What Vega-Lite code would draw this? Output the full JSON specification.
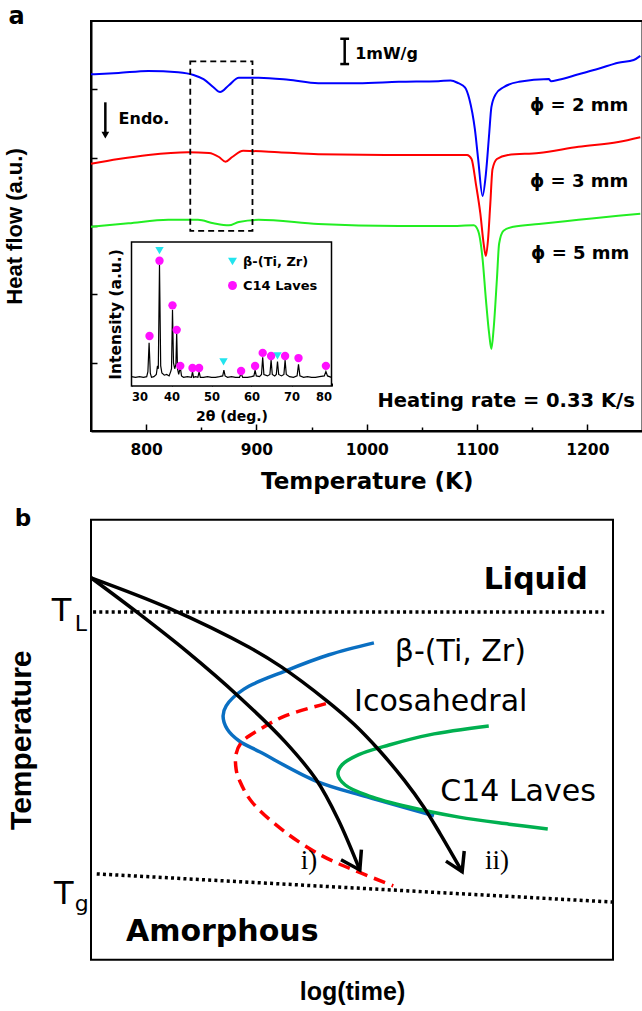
{
  "$schema": "https://vega.github.io/schema/vega-lite/v6.json",
  "background": "white",
  "padding": {"left": 2, "top": 3, "right": 0, "bottom": 0},
  "config": {
    "view": {"stroke": "black", "strokeWidth": 2},
    "axis": {"grid": false, "domainColor": "black", "tickColor": "black", "labelColor": "black", "titleColor": "black"}
  },
  "datasets": {
    "dsc": [
      {"s":"2 mm","T":750,"hf":5.22},{"s":"2 mm","T":775,"hf":5.24},{"s":"2 mm","T":802,"hf":5.27},{"s":"2 mm","T":829,"hf":5.25},{"s":"2 mm","T":843,"hf":5.21},{"s":"2 mm","T":852,"hf":5.15},{"s":"2 mm","T":861,"hf":5.03},{"s":"2 mm","T":867,"hf":4.96},{"s":"2 mm","T":875,"hf":5.06},{"s":"2 mm","T":884,"hf":5.17},{"s":"2 mm","T":902,"hf":5.17},{"s":"2 mm","T":929,"hf":5.14},{"s":"2 mm","T":956,"hf":5.09},{"s":"2 mm","T":992,"hf":5.09},{"s":"2 mm","T":1029,"hf":5.11},{"s":"2 mm","T":1065,"hf":5.12},{"s":"2 mm","T":1076,"hf":5.13},{"s":"2 mm","T":1083,"hf":5.09},{"s":"2 mm","T":1089,"hf":5.03},{"s":"2 mm","T":1093,"hf":4.86},{"s":"2 mm","T":1098,"hf":4.42},{"s":"2 mm","T":1101,"hf":3.98},{"s":"2 mm","T":1105,"hf":3.44},{"s":"2 mm","T":1108,"hf":3.76},{"s":"2 mm","T":1111,"hf":4.35},{"s":"2 mm","T":1113,"hf":4.74},{"s":"2 mm","T":1117,"hf":4.93},{"s":"2 mm","T":1124,"hf":5.03},{"s":"2 mm","T":1138,"hf":5.11},{"s":"2 mm","T":1165,"hf":5.15},{"s":"2 mm","T":1167,"hf":5.12},{"s":"2 mm","T":1174,"hf":5.14},{"s":"2 mm","T":1192,"hf":5.22},{"s":"2 mm","T":1210,"hf":5.3},{"s":"2 mm","T":1228,"hf":5.39},{"s":"2 mm","T":1242,"hf":5.43},{"s":"2 mm","T":1248,"hf":5.49},
      {"s":"3 mm","T":750,"hf":3.91},{"s":"3 mm","T":775,"hf":3.98},{"s":"3 mm","T":802,"hf":4.04},{"s":"3 mm","T":838,"hf":4.08},{"s":"3 mm","T":857,"hf":4.07},{"s":"3 mm","T":866,"hf":4.01},{"s":"3 mm","T":872,"hf":3.94},{"s":"3 mm","T":878,"hf":4.01},{"s":"3 mm","T":888,"hf":4.1},{"s":"3 mm","T":920,"hf":4.08},{"s":"3 mm","T":956,"hf":4.05},{"s":"3 mm","T":1029,"hf":4.04},{"s":"3 mm","T":1060,"hf":4.04},{"s":"3 mm","T":1091,"hf":4.04},{"s":"3 mm","T":1095,"hf":3.98},{"s":"3 mm","T":1099,"hf":3.61},{"s":"3 mm","T":1103,"hf":3.18},{"s":"3 mm","T":1106,"hf":2.74},{"s":"3 mm","T":1108,"hf":2.56},{"s":"3 mm","T":1110,"hf":2.81},{"s":"3 mm","T":1112,"hf":3.32},{"s":"3 mm","T":1114,"hf":3.83},{"s":"3 mm","T":1118,"hf":3.98},{"s":"3 mm","T":1128,"hf":4.04},{"s":"3 mm","T":1156,"hf":4.07},{"s":"3 mm","T":1192,"hf":4.16},{"s":"3 mm","T":1228,"hf":4.23},{"s":"3 mm","T":1248,"hf":4.3},
      {"s":"5 mm","T":750,"hf":2.99},{"s":"5 mm","T":784,"hf":3.04},{"s":"5 mm","T":820,"hf":3.09},{"s":"5 mm","T":847,"hf":3.09},{"s":"5 mm","T":861,"hf":3.04},{"s":"5 mm","T":875,"hf":3.01},{"s":"5 mm","T":884,"hf":3.06},{"s":"5 mm","T":902,"hf":3.09},{"s":"5 mm","T":956,"hf":3.03},{"s":"5 mm","T":1029,"hf":3.0},{"s":"5 mm","T":1074,"hf":3.0},{"s":"5 mm","T":1097,"hf":3.01},{"s":"5 mm","T":1101,"hf":2.93},{"s":"5 mm","T":1105,"hf":2.52},{"s":"5 mm","T":1108,"hf":1.93},{"s":"5 mm","T":1111,"hf":1.42},{"s":"5 mm","T":1113,"hf":1.2},{"s":"5 mm","T":1115,"hf":1.49},{"s":"5 mm","T":1118,"hf":2.22},{"s":"5 mm","T":1120,"hf":2.74},{"s":"5 mm","T":1124,"hf":2.93},{"s":"5 mm","T":1133,"hf":2.99},{"s":"5 mm","T":1156,"hf":3.03},{"s":"5 mm","T":1192,"hf":3.09},{"s":"5 mm","T":1228,"hf":3.15},{"s":"5 mm","T":1248,"hf":3.18}
    ],
    "xrd": [
      {"th":30,"I":6.5},{"th":31,"I":6},{"th":32,"I":6.5},{"th":33,"I":6},{"th":33.8,"I":6.5},{"th":34.1,"I":10},{"th":34.4,"I":30},{"th":34.7,"I":9},{"th":35,"I":6},{"th":35.6,"I":6.5},{"th":36.2,"I":8},{"th":36.5,"I":14},{"th":36.7,"I":12},{"th":37.0,"I":84},{"th":37.3,"I":14},{"th":37.6,"I":9},{"th":38.2,"I":7.5},{"th":38.8,"I":8},{"th":39.4,"I":7},{"th":39.8,"I":10},{"th":40.0,"I":12},{"th":40.25,"I":53},{"th":40.5,"I":16},{"th":40.8,"I":12},{"th":41.1,"I":15},{"th":41.3,"I":37},{"th":41.5,"I":12},{"th":41.8,"I":8},{"th":42.2,"I":13},{"th":42.5,"I":7},{"th":43,"I":6},{"th":44,"I":6.5},{"th":45,"I":6},{"th":45.25,"I":10},{"th":45.5,"I":6},{"th":46,"I":6.5},{"th":46.6,"I":6},{"th":46.9,"I":10},{"th":47.2,"I":6},{"th":48,"I":6},{"th":49,"I":6.5},{"th":50,"I":6},{"th":51,"I":6},{"th":52,"I":6.5},{"th":52.8,"I":7},{"th":53.1,"I":11},{"th":53.4,"I":7},{"th":54,"I":6},{"th":55,"I":6.5},{"th":56,"I":6},{"th":57,"I":6},{"th":57.4,"I":8.5},{"th":57.8,"I":6},{"th":59,"I":6},{"th":60,"I":6.5},{"th":60.6,"I":7},{"th":60.9,"I":11},{"th":61.2,"I":7},{"th":62,"I":6.5},{"th":62.5,"I":8},{"th":62.8,"I":20},{"th":63.1,"I":8},{"th":64,"I":7},{"th":64.6,"I":8},{"th":64.9,"I":18},{"th":65.2,"I":8},{"th":65.8,"I":7},{"th":66.2,"I":8},{"th":66.5,"I":17},{"th":66.8,"I":8},{"th":67.5,"I":7},{"th":68.1,"I":8},{"th":68.4,"I":18},{"th":68.7,"I":8},{"th":69.5,"I":6.5},{"th":70.5,"I":6},{"th":71.4,"I":7},{"th":71.75,"I":15},{"th":72.1,"I":7},{"th":73,"I":6},{"th":74,"I":6.5},{"th":75,"I":6},{"th":76,"I":6},{"th":77,"I":6.5},{"th":78.2,"I":7},{"th":78.6,"I":10},{"th":79,"I":7},{"th":80,"I":6}
    ],
    "pk": [
      {"ph":"β-(Ti, Zr)","th":37.0,"I":94},{"ph":"β-(Ti, Zr)","th":53.0,"I":16.7},{"ph":"β-(Ti, Zr)","th":66.5,"I":21},
      {"ph":"C14 Laves","th":34.5,"I":34.7},{"ph":"C14 Laves","th":37.0,"I":87},{"ph":"C14 Laves","th":40.25,"I":56},{"ph":"C14 Laves","th":41.3,"I":39},{"ph":"C14 Laves","th":42.2,"I":14},{"ph":"C14 Laves","th":45.25,"I":12.5},{"ph":"C14 Laves","th":46.9,"I":12.5},{"ph":"C14 Laves","th":57.4,"I":10.4},{"ph":"C14 Laves","th":60.9,"I":13.9},{"ph":"C14 Laves","th":62.8,"I":23},{"ph":"C14 Laves","th":64.9,"I":20.8},{"ph":"C14 Laves","th":68.4,"I":20.8},{"ph":"C14 Laves","th":71.75,"I":19.4},{"ph":"C14 Laves","th":78.6,"I":14}
    ],
    "ttt": [
      {"g":"c1","i":0,"x":0,"y":86.8},{"g":"c1","i":1,"x":9,"y":78.8},{"g":"c1","i":2,"x":18.4,"y":70.0},{"g":"c1","i":3,"x":28.5,"y":59.6},{"g":"c1","i":4,"x":37.2,"y":49.5},{"g":"c1","i":5,"x":43.1,"y":41.0},{"g":"c1","i":6,"x":47.3,"y":32.0},{"g":"c1","i":7,"x":51.5,"y":20.4},
      {"g":"c2","i":0,"x":0,"y":86.8},{"g":"c2","i":1,"x":14.9,"y":79.9},{"g":"c2","i":2,"x":30.3,"y":71.0},{"g":"c2","i":3,"x":36.4,"y":66.6},{"g":"c2","i":4,"x":45,"y":59.0},{"g":"c2","i":5,"x":50.4,"y":53.5},{"g":"c2","i":6,"x":55.2,"y":47.6},{"g":"c2","i":7,"x":60,"y":40.8},{"g":"c2","i":8,"x":63.8,"y":34.6},{"g":"c2","i":9,"x":66.9,"y":28.6},{"g":"c2","i":10,"x":71.1,"y":20.0},
      {"g":"a1","i":0,"x":47.9,"y":22.7},{"g":"a1","i":1,"x":51.5,"y":20.4},{"g":"a1","i":2,"x":51.8,"y":25.0},
      {"g":"a2","i":0,"x":68.0,"y":22.4},{"g":"a2","i":1,"x":71.1,"y":20.0},{"g":"a2","i":2,"x":71.5,"y":24.7},
      {"g":"beta","i":0,"x":54.2,"y":72.0},{"g":"beta","i":1,"x":45.6,"y":69.3},{"g":"beta","i":2,"x":37.2,"y":65.6},{"g":"beta","i":3,"x":29.3,"y":61.5},{"g":"beta","i":4,"x":25.9,"y":57.7},{"g":"beta","i":5,"x":25.3,"y":55.4},{"g":"beta","i":6,"x":26.1,"y":52.4},{"g":"beta","i":7,"x":28.4,"y":49.7},{"g":"beta","i":8,"x":32.4,"y":47.2},{"g":"beta","i":9,"x":43.1,"y":40.6},{"g":"beta","i":10,"x":52.9,"y":37.0},{"g":"beta","i":11,"x":65.7,"y":32.7},
      {"g":"ico","i":0,"x":45.0,"y":58.2},{"g":"ico","i":1,"x":37.2,"y":55.4},{"g":"ico","i":2,"x":32.4,"y":52.4},{"g":"ico","i":3,"x":28.9,"y":49.5},{"g":"ico","i":4,"x":27.8,"y":46.8},{"g":"ico","i":5,"x":27.8,"y":43.3},{"g":"ico","i":6,"x":28.5,"y":40.6},{"g":"ico","i":7,"x":30.8,"y":35.9},{"g":"ico","i":8,"x":37.2,"y":29.0},{"g":"ico","i":9,"x":44.3,"y":23.6},{"g":"ico","i":10,"x":51.1,"y":20.0},{"g":"ico","i":11,"x":57.9,"y":16.8},
      {"g":"c14","i":0,"x":76.2,"y":53.1},{"g":"c14","i":1,"x":64.8,"y":51.1},{"g":"c14","i":2,"x":57.1,"y":48.8},{"g":"c14","i":3,"x":51.3,"y":46.6},{"g":"c14","i":4,"x":48.1,"y":44.3},{"g":"c14","i":5,"x":47.3,"y":42.2},{"g":"c14","i":6,"x":48.7,"y":39.7},{"g":"c14","i":7,"x":53.3,"y":37.2},{"g":"c14","i":8,"x":60.9,"y":34.7},{"g":"c14","i":9,"x":70.5,"y":32.4},{"g":"c14","i":10,"x":80.1,"y":30.8},{"g":"c14","i":11,"x":87.5,"y":29.7},
      {"g":"TL","i":0,"x":0.4,"y":79.0},{"g":"TL","i":1,"x":98.3,"y":79.0},
      {"g":"Tg","i":0,"x":1.1,"y":19.5},{"g":"Tg","i":1,"x":100,"y":13.1}
    ]
  },
  "bounds": "flush",
  "spacing": 88.7,
  "vconcat": [
    {
      "width": 551.5,
      "height": 410,
      "layer": [
        {
          "encoding": {
            "x": {"field": "T", "type": "quantitative", "scale": {"domain": [750, 1250], "nice": false, "zero": false},
              "axis": {"values": [800, 850, 900, 950, 1000, 1050, 1100, 1150, 1200], "format": "d",
                "labelExpr": "datum.value % 100 == 0 ? datum.label : ''",
                "tickSize": {"condition": {"test": "datum.value % 100 == 0", "value": -7}, "value": -4},
                "tickWidth": 1.5, "domainWidth": 2, "labelFont": "DejaVu Sans", "labelFontWeight": "bold", "labelFontSize": 15.5, "labelPadding": 18,
                "title": "Temperature (K)", "titleFont": "DejaVu Sans", "titleFontWeight": "bold", "titleFontSize": 23, "titlePadding": 13}},
            "y": {"field": "hf", "type": "quantitative", "scale": {"domain": [0, 6], "nice": false, "zero": false},
              "axis": {"values": [1, 2, 3, 4, 5], "labels": false, "tickSize": -6, "tickWidth": 1.5, "domainWidth": 2,
                "title": "Heat flow (a.u.)", "titleFont": "Liberation Sans", "titleFontWeight": "bold", "titleFontSize": 22, "titlePadding": 63.5}}
          },
          "layer": [
            {"data": {"name": "dsc"}, "mark": {"type": "line", "strokeWidth": 2, "interpolate": "monotone"},
              "encoding": {"color": {"field": "s", "type": "nominal", "scale": {"domain": ["2 mm", "3 mm", "5 mm"], "range": ["#0000ff", "#ff0000", "#22ee22"]}, "legend": null}}},
            {"data": {"values": [{"T": 840, "T2": 896.4, "hf": 5.41, "hf2": 2.93}]},
              "mark": {"type": "rect", "fillOpacity": 0, "stroke": "black", "strokeWidth": 1.8, "strokeDash": [6, 4]},
              "encoding": {"x2": {"field": "T2"}, "y2": {"field": "hf2"}}},
            {"data": {"values": [{"T": 980, "T2": 980, "hf": 5.74, "hf2": 5.37}, {"T": 976, "T2": 984, "hf": 5.74, "hf2": 5.74}, {"T": 976, "T2": 984, "hf": 5.37, "hf2": 5.37}, {"T": 763, "T2": 763, "hf": 4.81, "hf2": 4.36}]},
              "mark": {"type": "rule", "strokeWidth": 2.5, "color": "black"},
              "encoding": {"x2": {"field": "T2"}, "y2": {"field": "hf2"}}},
            {"data": {"values": [{"T": 763, "hf": 4.33}]},
              "mark": {"type": "point", "shape": "triangle-down", "filled": true, "color": "black", "size": 60, "opacity": 1}},
            {"data": {"values": [{"T": 775, "hf": 4.57, "t": "Endo."}, {"T": 989.5, "hf": 5.52, "t": "1mW/g"}]},
              "mark": {"type": "text", "align": "left", "baseline": "middle", "font": "DejaVu Sans", "fontWeight": "bold", "fontSize": 16, "color": "black"},
              "encoding": {"text": {"field": "t", "type": "nominal"}}},
            {"data": {"values": [{"T": 675.2, "hf": 5.96, "t": "a"}]},
              "mark": {"type": "text", "align": "left", "baseline": "alphabetic", "font": "DejaVu Sans", "fontWeight": "bold", "fontSize": 24, "color": "black"},
              "encoding": {"text": {"field": "t", "type": "nominal"}}},
            {"data": {"values": [{"T": 1148, "hf": 4.76, "t": "ϕ = 2 mm"}, {"T": 1148, "hf": 3.64, "t": "ϕ = 3 mm"}, {"T": 1149, "hf": 2.59, "t": "ϕ = 5 mm"}]},
              "mark": {"type": "text", "align": "left", "baseline": "middle", "font": "DejaVu Sans", "fontWeight": "bold", "fontSize": 18, "color": "black"},
              "encoding": {"text": {"field": "t", "type": "nominal"}}},
            {"data": {"values": [{"T": 1243, "hf": 0.44, "t": "Heating rate = 0.33 K/s"}]},
              "mark": {"type": "text", "align": "right", "baseline": "middle", "font": "DejaVu Sans", "fontWeight": "bold", "fontSize": 19.5, "color": "black"},
              "encoding": {"text": {"field": "t", "type": "nominal"}}}
          ]
        },
        {
          "encoding": {
            "x": {"field": "th", "type": "quantitative", "scale": {"domain": [30, 80], "range": [40.5, 240.5], "nice": false, "zero": false},
              "axis": {"orient": "bottom", "offset": -45, "values": [30, 40, 50, 60, 70, 80], "tickSize": -3, "domain": false,
                "labelFont": "DejaVu Sans", "labelFontWeight": "bold", "labelFontSize": 11.5, "labelPadding": 8,
                "title": "2θ (deg.)", "titleFont": "DejaVu Sans", "titleFontWeight": "bold", "titleFontSize": 14, "titlePadding": 7}},
            "y": {"field": "I", "type": "quantitative", "scale": {"domain": [0, 100], "range": [365, 221], "nice": false, "zero": false},
              "axis": {"orient": "left", "offset": -40.5, "ticks": false, "labels": false, "domain": false,
                "title": "Intensity (a.u.)", "titleFont": "DejaVu Sans", "titleFontWeight": "bold", "titleFontSize": 15.5, "titlePadding": 8}}
          },
          "layer": [
            {"data": {"values": [{"th": 30, "th2": 80, "I": 0, "I2": 100}]},
              "mark": {"type": "rect", "fill": "white", "stroke": "black", "strokeWidth": 1.5},
              "encoding": {"x2": {"field": "th2"}, "y2": {"field": "I2"}}},
            {"data": {"name": "xrd"}, "mark": {"type": "line", "color": "black", "strokeWidth": 1.2}},
            {"data": {"name": "pk"}, "mark": {"type": "point", "filled": true, "opacity": 1, "size": 70},
              "encoding": {
                "color": {"field": "ph", "type": "nominal", "scale": {"domain": ["β-(Ti, Zr)", "C14 Laves"], "range": ["#22e4ee", "#ff10ff"]},
                  "legend": {"orient": "none", "legendX": 135, "legendY": 234, "title": null, "padding": 0, "rowPadding": 10, "labelOffset": 4, "labelFont": "DejaVu Sans", "labelFontWeight": "bold", "labelFontSize": 13, "labelColor": "black", "symbolSize": 80, "symbolStrokeWidth": 0}},
                "shape": {"field": "ph", "type": "nominal", "scale": {"domain": ["β-(Ti, Zr)", "C14 Laves"], "range": ["triangle-down", "circle"]},
                  "legend": {"orient": "none", "legendX": 135, "legendY": 234, "title": null, "padding": 0, "rowPadding": 10, "labelOffset": 4, "labelFont": "DejaVu Sans", "labelFontWeight": "bold", "labelFontSize": 13, "labelColor": "black", "symbolSize": 80, "symbolStrokeWidth": 0}}
              }}
          ]
        }
      ],
      "resolve": {"scale": {"x": "independent", "y": "independent", "color": "independent", "shape": "independent"}, "axis": {"x": "independent", "y": "independent"}}
    },
    {
      "width": 522,
      "height": 440,
      "encoding": {
        "x": {"field": "x", "type": "quantitative", "scale": {"domain": [0, 100], "nice": false, "zero": false},
          "axis": {"labels": false, "ticks": false, "domain": false, "title": "log(time)", "titleFont": "Liberation Sans", "titleFontWeight": "bold", "titleFontSize": 25, "titlePadding": 20}},
        "y": {"field": "y", "type": "quantitative", "scale": {"domain": [0, 100], "nice": false, "zero": false},
          "axis": {"labels": false, "ticks": false, "domain": false, "title": "Temperature", "titleFont": "Liberation Sans", "titleFontWeight": "bold", "titleFontSize": 30, "titlePadding": 55}}
      },
      "layer": [
        {"data": {"name": "ttt"}, "transform": [{"filter": {"field": "g", "oneOf": ["TL", "Tg"]}}],
          "mark": {"type": "line", "color": "black", "strokeWidth": 3.5, "strokeDash": [3, 3.2]},
          "encoding": {"detail": {"field": "g", "type": "nominal"}, "order": {"field": "i", "type": "quantitative"}}},
        {"data": {"name": "ttt"}, "transform": [{"filter": {"field": "g", "equal": "beta"}}],
          "mark": {"type": "line", "color": "#0a6fc2", "strokeWidth": 3.5, "interpolate": "catmull-rom"},
          "encoding": {"order": {"field": "i", "type": "quantitative"}}},
        {"data": {"name": "ttt"}, "transform": [{"filter": {"field": "g", "equal": "c14"}}],
          "mark": {"type": "line", "color": "#00b050", "strokeWidth": 3.5, "interpolate": "catmull-rom"},
          "encoding": {"order": {"field": "i", "type": "quantitative"}}},
        {"data": {"name": "ttt"}, "transform": [{"filter": {"field": "g", "equal": "ico"}}],
          "mark": {"type": "line", "color": "#ff0000", "strokeWidth": 3.5, "strokeDash": [12, 7], "interpolate": "catmull-rom"},
          "encoding": {"order": {"field": "i", "type": "quantitative"}}},
        {"data": {"name": "ttt"}, "transform": [{"filter": {"field": "g", "oneOf": ["c1", "c2"]}}],
          "mark": {"type": "line", "color": "black", "strokeWidth": 3.5, "interpolate": "catmull-rom"},
          "encoding": {"detail": {"field": "g", "type": "nominal"}, "order": {"field": "i", "type": "quantitative"}}},
        {"data": {"name": "ttt"}, "transform": [{"filter": {"field": "g", "oneOf": ["a1", "a2"]}}],
          "mark": {"type": "line", "color": "black", "strokeWidth": 3.5},
          "encoding": {"detail": {"field": "g", "type": "nominal"}, "order": {"field": "i", "type": "quantitative"}}},
        {"data": {"values": [{"x": 85.2, "y": 84.3, "t": "Liquid"}]},
          "mark": {"type": "text", "align": "center", "baseline": "alphabetic", "font": "DejaVu Sans", "fontWeight": "bold", "fontSize": 30, "color": "black"},
          "encoding": {"text": {"field": "t", "type": "nominal"}}},
        {"data": {"values": [{"x": 6.7, "y": 4.3, "t": "Amorphous"}]},
          "mark": {"type": "text", "align": "left", "baseline": "alphabetic", "font": "DejaVu Sans", "fontWeight": "bold", "fontSize": 30, "color": "black"},
          "encoding": {"text": {"field": "t", "type": "nominal"}}},
        {"data": {"values": [{"x": -14.6, "y": 98.6, "t": "b"}]},
          "mark": {"type": "text", "align": "left", "baseline": "alphabetic", "font": "DejaVu Sans", "fontWeight": "bold", "fontSize": 23, "color": "black"},
          "encoding": {"text": {"field": "t", "type": "nominal"}}},
        {"data": {"values": [{"x": 58.2, "y": 68.0, "t": "β-(Ti, Zr)"}, {"x": 50.4, "y": 56.5, "t": "Icosahedral"}, {"x": 66.9, "y": 36.1, "t": "C14 Laves"}]},
          "mark": {"type": "text", "align": "left", "baseline": "alphabetic", "font": "DejaVu Sans", "fontSize": 30, "color": "black"},
          "encoding": {"text": {"field": "t", "type": "nominal"}}},
        {"data": {"values": [{"x": 40.2, "y": 20.6, "t": "i)"}, {"x": 75.5, "y": 20.6, "t": "ii)"}]},
          "mark": {"type": "text", "align": "left", "baseline": "alphabetic", "font": "Liberation Serif", "fontSize": 27, "color": "black"},
          "encoding": {"text": {"field": "t", "type": "nominal"}}},
        {"data": {"values": [{"x": -7.5, "y": 77.0, "t": "T"}, {"x": -7.1, "y": 12.7, "t": "T"}]},
          "mark": {"type": "text", "align": "left", "baseline": "alphabetic", "font": "DejaVu Sans", "fontSize": 32, "color": "black"},
          "encoding": {"text": {"field": "t", "type": "nominal"}}},
        {"data": {"values": [{"x": -3.1, "y": 74.7, "t": "L"}, {"x": -3.1, "y": 11.1, "t": "g"}]},
          "mark": {"type": "text", "align": "left", "baseline": "alphabetic", "font": "DejaVu Sans", "fontSize": 22, "color": "black"},
          "encoding": {"text": {"field": "t", "type": "nominal"}}}
      ]
    }
  ]
}
